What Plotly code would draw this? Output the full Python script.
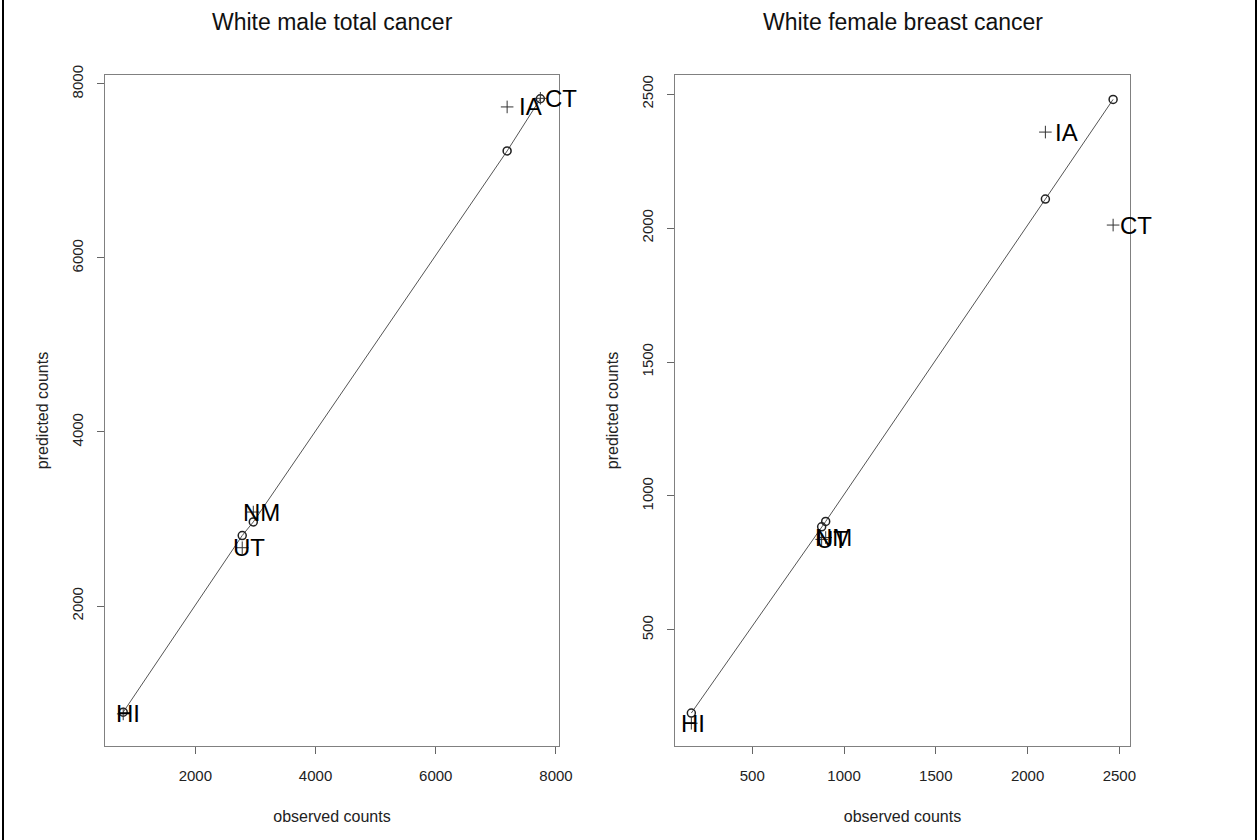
import plotly.graph_objects as go

# ---------------- data ----------------
states = ["CT", "IA", "NM", "UT", "HI"]

male_observed = [7740, 7187, 2964, 2780, 800]
male_pred_circle = [7830, 7230, 2966, 2810, 780]
male_pred_plus = [7835, 7736, 3080, 2670, 760]

female_observed = [2466, 2097, 900, 878, 168]
female_pred_circle = [2480, 2108, 905, 885, 190]
female_pred_plus = [2011, 2358, 845, 838, 152]

panel_titles = ["White male total cancer", "White female breast cancer"]
male_ticks = [2000, 4000, 6000, 8000]
female_ticks = [500, 1000, 1500, 2000, 2500]
x_title = "observed counts"
y_title = "predicted counts"

# ---------------- styles ----------------
FONT = "Liberation Sans, Arial, sans-serif"
W, H = 1260, 840
ML, MR, MT, MB = 105, 130, 75, 94
PW = W - ML - MR
PH = H - MT - MB

male_label_style = {"CT": ("left", 3), "IA": ("left", 10), "NM": ("center", 8),
                    "UT": ("center", 7), "HI": ("center", 5)}
female_label_style = {"CT": ("left", 5), "IA": ("left", 8), "NM": ("center", 8),
                      "UT": ("center", 10), "HI": ("center", 2)}

fig = go.Figure()


def add_panel(obs, pc, pp, xa, ya, label_style):
    order = sorted(range(len(obs)), key=lambda i: obs[i])
    fig.add_trace(go.Scatter(
        x=[obs[i] for i in order], y=[pc[i] for i in order],
        mode="lines+markers", xaxis=xa, yaxis=ya,
        line=dict(color="#555555", width=1),
        marker=dict(symbol="circle-open", size=8, color="#222222",
                    line=dict(width=1.5, color="#222222")),
        showlegend=False, hoverinfo="skip"))
    fig.add_trace(go.Scatter(
        x=obs, y=pp, mode="markers", xaxis=xa, yaxis=ya,
        marker=dict(symbol="cross-thin-open", size=9, color="#333333",
                    line=dict(width=1, color="#333333")),
        showlegend=False, hoverinfo="skip"))
    for i, s in enumerate(states):
        anchor, shift = label_style[s]
        fig.add_annotation(x=obs[i], y=pp[i], text=s, xref=xa.replace("axis", ""),
                           yref=ya.replace("axis", ""), showarrow=False,
                           xanchor=anchor, yanchor="middle", xshift=shift,
                           font=dict(family=FONT, size=24, color="#000000"))


add_panel(male_observed, male_pred_circle, male_pred_plus, "x", "y", male_label_style)
add_panel(female_observed, female_pred_circle, female_pred_plus, "x2", "y2", female_label_style)

axis_common = dict(showline=True, mirror=True, linecolor="#808080", linewidth=1,
                   ticks="outside", ticklen=7, tickcolor="#666666", tickwidth=1,
                   showgrid=False, zeroline=False,
                   tickfont=dict(family=FONT, size=15, color="#222222"),
                   title_font=dict(family=FONT, size=16, color="#222222"))

left_dom = [0, (559 - ML) / PW]
right_dom = [(675 - ML) / PW, 1]

fig.update_layout(
    width=W, height=H,
    margin=dict(l=ML, r=MR, t=MT, b=MB),
    paper_bgcolor="white", plot_bgcolor="white",
    xaxis=dict(domain=left_dom, range=[497, 8050], tickvals=male_ticks, ticklabelstandoff=9,
               title=dict(text=x_title, standoff=27), anchor="y", **axis_common),
    yaxis=dict(domain=[0, 1], range=[391, 8103], tickvals=male_ticks, tickangle=-90,
               ticklabelstandoff=8,
               title=dict(text=y_title, standoff=16), anchor="x", **axis_common),
    xaxis2=dict(domain=right_dom, range=[79, 2558], tickvals=female_ticks, ticklabelstandoff=9,
                title=dict(text=x_title, standoff=27), anchor="y2", **axis_common),
    yaxis2=dict(domain=[0, 1], range=[67, 2571], tickvals=female_ticks, tickangle=-90,
                ticklabelstandoff=8,
                title=dict(text=y_title, standoff=16), anchor="x2", **axis_common),
)

# panel titles
for dom, t in zip([left_dom, right_dom], panel_titles):
    fig.add_annotation(x=(dom[0] + dom[1]) / 2, y=1 + (MT - 22) / PH, xref="paper", yref="paper",
                       text=t, showarrow=False, xanchor="center", yanchor="middle",
                       font=dict(family=FONT, size=23, color="#111111"))

# page frame lines (left and right edges)
for px in [3, 1256]:
    xp = (px - ML) / PW
    fig.add_shape(type="line", xref="paper", yref="paper", x0=xp, x1=xp,
                  y0=-MB / PH, y1=1 + MT / PH, line=dict(color="#000000", width=2))

fig.write_html("out.html", config={"displayModeBar": False},
               post_script="document.body.style.margin='0px';document.body.style.padding='0px';")
